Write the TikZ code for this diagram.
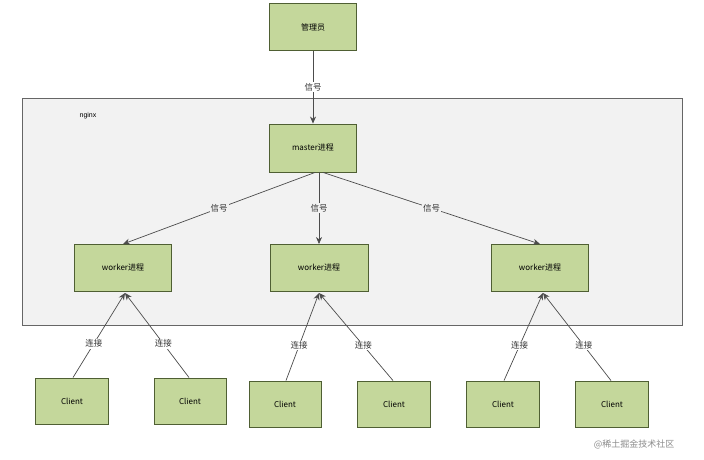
\documentclass[tikz,border=0pt]{standalone}
\usepackage{fontspec}
\setmainfont{Liberation Sans}
\newfontfamily\cjk{Noto Sans CJK SC}
\usetikzlibrary{arrows.meta}
\definecolor{boxg}{HTML}{C4D79B}
\definecolor{boxb}{HTML}{4F5F33}
\begin{document}
\begin{tikzpicture}[x=1pt,y=-1pt,
  box/.style={draw=boxb,fill=boxg,line width=0.9pt,font=\cjk\fontsize{8}{9}\selectfont,inner sep=0pt},
  lab/.style={font=\cjk\fontsize{8.5}{10}\selectfont,text=black!80,fill=white,inner sep=1pt},
  lab2/.style={font=\cjk\fontsize{8.5}{10}\selectfont,text=black!80,fill=black!5,inner sep=1pt},
  arr/.style={draw=black!70,line width=0.7pt,-{Stealth[length=7pt,width=6pt]}}]
\useasboundingbox (0,0) rectangle (704,460);
\fill[white] (0,0) rectangle (704,460);
\node[draw=black!60,fill=black!5,line width=0.8pt,minimum width=660pt,minimum height=227pt,anchor=north west] (ng) at (22,98) {};
\node[font=\fontsize{7}{8}\selectfont] (ngl) at (88,116) {nginx};
\node[box,minimum width=87pt,minimum height=47pt] (adm) at (313,27) {管理员};
\node[box,minimum width=87pt,minimum height=48pt] (m) at (313,148) {master进程};
\node[box,minimum width=97pt,minimum height=47pt] (w1) at (123,268) {worker进程};
\node[box,minimum width=98pt,minimum height=47pt] (w2) at (319,268) {worker进程};
\node[box,minimum width=97pt,minimum height=47pt] (w3) at (540,268) {worker进程};
\node[box,minimum width=73pt,minimum height=46pt] (c1) at (72,401) {Client};
\node[box,minimum width=72pt,minimum height=46pt] (c2) at (190,401) {Client};
\node[box,minimum width=72pt,minimum height=46pt] (c3) at (285,404) {Client};
\node[box,minimum width=73pt,minimum height=46pt] (c4) at (394,404) {Client};
\node[box,minimum width=73pt,minimum height=46pt] (c5) at (503,404) {Client};
\node[box,minimum width=73pt,minimum height=46pt] (c6) at (612,404) {Client};
\draw[arr] (adm) -- node[lab]{信号} (m);
\draw[arr] ([xshift=2pt]m.south) -- node[lab2,pos=0.5]{信号} (w1.north);
\draw[arr] (m.south -| w2) -- node[lab2,pos=0.5]{信号} (w2);
\draw[arr] ([xshift=10pt]m.south) -- node[lab2,pos=0.5]{信号} (w3.north);
\coordinate (t1) at (125,293); \coordinate (t2) at (319,293); \coordinate (t3) at (543,293);
\draw[arr] (c1.north) ++(1,0) -- node[lab,pos=0.4]{连接} (t1);
\draw[arr] (c2.north) ++(-1,0) -- node[lab,pos=0.4]{连接} (t1);
\draw[arr] (c3.north) ++(1,0) -- node[lab,pos=0.4]{连接} (t2);
\draw[arr] (c4.north) ++(-1,0) -- node[lab,pos=0.4]{连接} (t2);
\draw[arr] (c5.north) ++(1,0) -- node[lab,pos=0.4]{连接} (t3);
\draw[arr] (c6.north) ++(-1,0) -- node[lab,pos=0.4]{连接} (t3);
\node[font=\cjk\fontsize{9}{10}\selectfont,text=black!45] (wm) at (634,444) {@稀土掘金技术社区};
\end{tikzpicture}
\end{document}
